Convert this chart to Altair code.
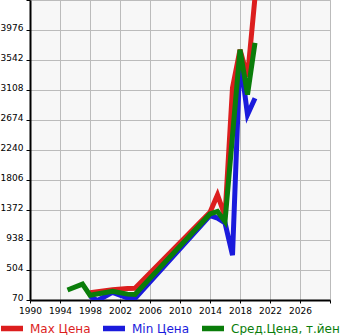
import altair as alt
import pandas as pd

series_names = ["Max Цена", "Min Цена", "Сред.Цена, т.йен"]
series_colors = ["#dc1e1e", "#1a1adc", "#0a7d0a"]

max_years = [1998, 2001, 2003, 2004, 2014, 2015, 2016, 2017, 2018, 2019, 2020]
max_vals = [175, 220, 235, 240, 1340, 1590, 1285, 3140, 3690, 3300, 4450]

min_years = [1998, 1999, 2001, 2003, 2004, 2014, 2015, 2016, 2017, 2018, 2019, 2020]
min_vals = [125, 62, 180, 100, 92, 1290, 1255, 1185, 720, 3590, 2750, 2990]

avg_years = [1995, 1997, 1998, 2001, 2003, 2004, 2014, 2015, 2016, 2018, 2019, 2020]
avg_vals = [215, 300, 140, 195, 155, 150, 1315, 1350, 1205, 3690, 3040, 3790]

x_ticks = list(range(1990, 2031, 4))
y_ticks = [70 + 434 * i for i in range(11)]

rows = []
for name, ys, vs in zip(series_names, [max_years, min_years, avg_years], [max_vals, min_vals, avg_vals]):
    for y, v in zip(ys, vs):
        rows.append({"year": y, "value": v, "series": name})
df = pd.DataFrame(rows)

label_color_expr = (
    "datum.label == 'Max Цена' ? '#dc1e1e' : "
    "(datum.label == 'Min Цена' ? '#1a1adc' : '#0a7d0a')"
)

color = alt.Color(
    "series:N",
    scale=alt.Scale(domain=series_names, range=series_colors),
    legend=alt.Legend(
        title=None,
        orient="none",
        direction="horizontal",
        legendX=-32,
        legendY=314.5,
        symbolType="stroke",
        symbolSize=484,
        symbolStrokeWidth=5.5,
        symbolOffset=0,
        labelOffset=4,
        columnPadding=1,
        labelFontSize=12,
        labelFont="DejaVu Sans",
        labelColor=alt.ExprRef(label_color_expr),
        padding=0,
        labelLimit=200,
    ),
)

x = alt.X(
    "year:Q",
    scale=alt.Scale(domain=[1990, 2030], nice=False, zero=False),
    axis=alt.Axis(
        values=x_ticks,
        format="d",
        title=None,
        labelExpr="datum.value >= 2030 ? '' : datum.label",
        labelFontSize=9,
        labelFont="DejaVu Sans",
        labelColor="#000000",
        labelPadding=3,
        tickSize=3,
        tickColor="#000000",
        domainColor="#000000",
        domainWidth=2,
        gridColor="#bbbbbb",
        gridWidth=1,
        labelFlush=False,
    ),
)

y = alt.Y(
    "value:Q",
    scale=alt.Scale(domain=[70, 4410], nice=False, zero=False),
    axis=alt.Axis(
        values=y_ticks,
        format="d",
        title=None,
        labelExpr="datum.value >= 4400 ? '' : datum.label",
        labelFontSize=9,
        labelFont="DejaVu Sans",
        labelColor="#000000",
        labelBaseline="alphabetic",
        labelPadding=3,
        tickSize=4,
        tickColor="#000000",
        domainColor="#000000",
        domainWidth=2,
        gridColor="#bbbbbb",
        gridWidth=1,
        labelFlush=False,
    ),
)

layers = []
for name in series_names:
    layers.append(
        alt.Chart(df)
        .transform_filter(alt.datum.series == name)
        .mark_line(strokeWidth=5, clip=True)
        .encode(x=x, y=y, color=color, order="year:Q")
    )

chart = (
    alt.layer(*layers)
    .properties(
        width=300,
        height=300,
        autosize="none",
        padding={"left": 30, "top": 0, "right": 15, "bottom": 35},
        background="#ffffff",
    )
    .configure_view(fill="#f7f7f7", stroke="#bbbbbb", strokeWidth=1)
)

chart.save("out.html", embed_options={"renderer": "svg", "actions": False})
